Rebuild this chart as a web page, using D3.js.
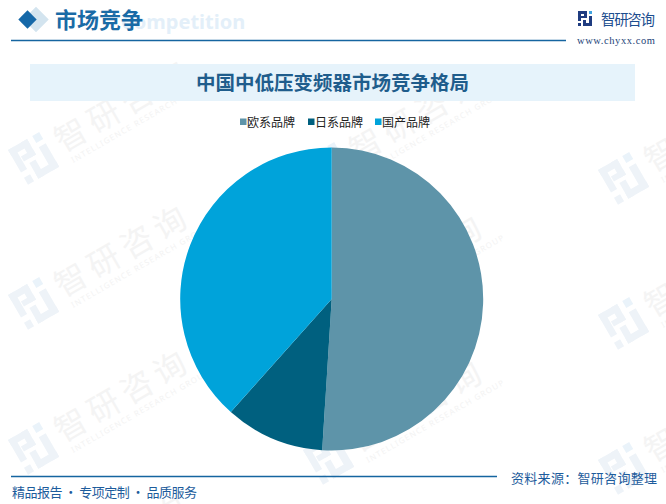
<!DOCTYPE html>
<html>
<head>
<meta charset="utf-8">
<script src="https://cdn.jsdelivr.net/npm/d3@7/dist/d3.min.js"></script>
<style>
  html, body { margin: 0; padding: 0; background: #ffffff; }
  svg { display: block; }
</style>
</head>
<body>
<script>
// Market share by brand origin (%)
const categories = ["欧系品牌", "日系品牌", "国产品牌"];
const shares = [51.0, 10.6, 38.4];
const sliceColors = ["#5E94A9", "#00607F", "#00A3DA"];

const chartTitle = "中国中低压变频器市场竞争格局";
const sectionTitle = "市场竞争";
const sectionSub = "Competition";
const brandName = "智研咨询";
const brandUrl = "www.chyxx.com";
const sourceText = "资料来源：智研咨询整理";
const sloganText = "精品报告 · 专项定制 · 品质服务";

const W = 666, H = 504;
const CJK = "'Noto Sans CJK SC', 'Noto Sans', sans-serif";

const svg = d3.select("body").append("svg")
  .attr("width", W).attr("height", H);

// ---- background watermarks ----
function watermark(g) {
  const logo = g.append("g").attr("fill", "#eef3f8");
  logo.append("rect").attr("x", 0).attr("y", 0).attr("width", 22).attr("height", 7);
  logo.append("rect").attr("x", 0).attr("y", 0).attr("width", 7).attr("height", 26);
  logo.append("rect").attr("x", 15).attr("y", 0).attr("width", 7).attr("height", 18);
  logo.append("rect").attr("x", 8).attr("y", 12).attr("width", 14).attr("height", 6);
  logo.append("rect").attr("x", 0).attr("y", 32).attr("width", 7).attr("height", 8);
  logo.append("rect").attr("x", 28).attr("y", 0).attr("width", 8).attr("height", 8).attr("fill", "#eaf3fa");
  logo.append("rect").attr("x", 28).attr("y", 13).attr("width", 8).attr("height", 27);
  logo.append("rect").attr("x", 12).attr("y", 33).attr("width", 24).attr("height", 7);
  logo.append("rect").attr("x", 12).attr("y", 22).attr("width", 7).attr("height", 18);
  g.append("text").attr("x", 46).attr("y", 30)
    .attr("font-family", CJK).attr("font-size", 32).attr("font-weight", 400)
    .attr("fill", "#f4f4f4").attr("letter-spacing", 6).text(brandName);
  g.append("text").attr("x", 50).attr("y", 44)
    .attr("font-family", "'Noto Sans', sans-serif").attr("font-size", 8)
    .attr("fill", "#f3f3f3").attr("letter-spacing", 1.2)
    .text("INTELLIGENCE RESEARCH GROUP");
}
const wm = svg.append("g");
for (let r = 0; r < 4; r++) {
  for (let c = 0; c < 3; c++) {
    const x = 8 + 295 * c;
    const y = 150 + 145 * r + 10 * c;
    const g = wm.append("g").attr("transform", `translate(${x},${y}) rotate(-30)`);
    watermark(g);
  }
}

// ---- header ----
svg.append("rect").attr("x", 36 - 9).attr("y", 19.5 - 9).attr("width", 18).attr("height", 18)
  .attr("fill", "#d3e4ef").attr("transform", "rotate(45,36,19.5)");
svg.append("rect").attr("x", 27.5 - 6.5).attr("y", 19.5 - 6.5).attr("width", 13).attr("height", 13)
  .attr("fill", "#1568A8").attr("transform", "rotate(45,27.5,19.5)");
svg.append("text").attr("x", 121).attr("y", 29)
  .attr("font-family", "'Noto Sans', 'Liberation Sans', sans-serif").attr("font-weight", 700)
  .attr("font-size", 20).attr("fill", "#e3eff9").text(sectionSub);
svg.append("text").attr("x", 55).attr("y", 28)
  .attr("font-family", CJK).attr("font-weight", 700)
  .attr("font-size", 22).attr("fill", "#1A6BA6").text(sectionTitle);
svg.append("line").attr("x1", 11).attr("x2", 566).attr("y1", 40.5).attr("y2", 40.5)
  .attr("stroke", "#1565A0").attr("stroke-width", 1.3);

// brand logo (top right)
const lg = svg.append("g").attr("transform", "translate(578,11)");
lg.append("rect").attr("x", 0).attr("y", 0).attr("width", 8).attr("height", 3).attr("fill", "#1F3C80");
lg.append("rect").attr("x", 0).attr("y", 0).attr("width", 3).attr("height", 10).attr("fill", "#1F3C80");
lg.append("rect").attr("x", 6).attr("y", 0).attr("width", 3).attr("height", 7).attr("fill", "#1F3C80");
lg.append("rect").attr("x", 3).attr("y", 5).attr("width", 6).attr("height", 2).attr("fill", "#1F3C80");
lg.append("rect").attr("x", 0).attr("y", 12).attr("width", 3).attr("height", 3).attr("fill", "#1F3C80");
lg.append("rect").attr("x", 11).attr("y", 0).attr("width", 3).attr("height", 3).attr("fill", "#3FA3E0");
lg.append("rect").attr("x", 11).attr("y", 5).attr("width", 3).attr("height", 10).attr("fill", "#1F3C80");
lg.append("rect").attr("x", 5).attr("y", 12).attr("width", 9).attr("height", 3).attr("fill", "#1F3C80");
lg.append("rect").attr("x", 5).attr("y", 9).attr("width", 3).attr("height", 6).attr("fill", "#1F3C80");
svg.append("text").attr("x", 601).attr("y", 25)
  .attr("font-family", CJK).attr("font-size", 14.5).attr("fill", "#1D4E8F")
  .attr("textLength", 54).text(brandName);
svg.append("text").attr("x", 577).attr("y", 44)
  .attr("font-family", "'Liberation Serif', 'DejaVu Serif', serif").attr("font-size", 10.5)
  .attr("fill", "#1D3F78").attr("textLength", 78).text(brandUrl);

// ---- chart title bar ----
svg.append("rect").attr("x", 30).attr("y", 64).attr("width", 605).attr("height", 37)
  .attr("fill", "#E6F3FB");
svg.append("text").attr("x", 332.5).attr("y", 89.5).attr("text-anchor", "middle")
  .attr("font-family", CJK).attr("font-weight", 700).attr("font-size", 19.5)
  .attr("fill", "#1F5D8C").text(chartTitle);

// ---- legend ----
const legendX = [240, 308, 375];
const legend = svg.append("g");
categories.forEach((c, i) => {
  legend.append("rect").attr("x", legendX[i]).attr("y", 118.5).attr("width", 6.5).attr("height", 6.5)
    .attr("fill", sliceColors[i]);
  legend.append("text").attr("x", legendX[i] + 7).attr("y", 126.5)
    .attr("font-family", CJK).attr("font-size", 12).attr("fill", "#222").text(c);
});

// ---- pie ----
const cx = 331.7, cy = 299, R = 151.5;
const pie = d3.pie().sort(null).value(d => d)(shares);
const arc = d3.arc().innerRadius(0).outerRadius(R);
svg.append("g").attr("transform", `translate(${cx},${cy})`)
  .selectAll("path").data(pie).join("path")
  .attr("d", arc)
  .attr("fill", (d, i) => sliceColors[i]);

// ---- footer ----
svg.append("line").attr("x1", 11).attr("x2", 497).attr("y1", 476.5).attr("y2", 476.5)
  .attr("stroke", "#1565A0").attr("stroke-width", 1.3);
svg.append("text").attr("x", 511).attr("y", 482.5)
  .attr("font-family", CJK).attr("font-size", 13).attr("fill", "#1D5C9C")
  .attr("textLength", 146).text(sourceText);
svg.append("text").attr("x", 12).attr("y", 497)
  .attr("font-family", CJK).attr("font-size", 13).attr("fill", "#1D5C9C")
  .attr("textLength", 185).text(sloganText);
</script>
</body>
</html>
